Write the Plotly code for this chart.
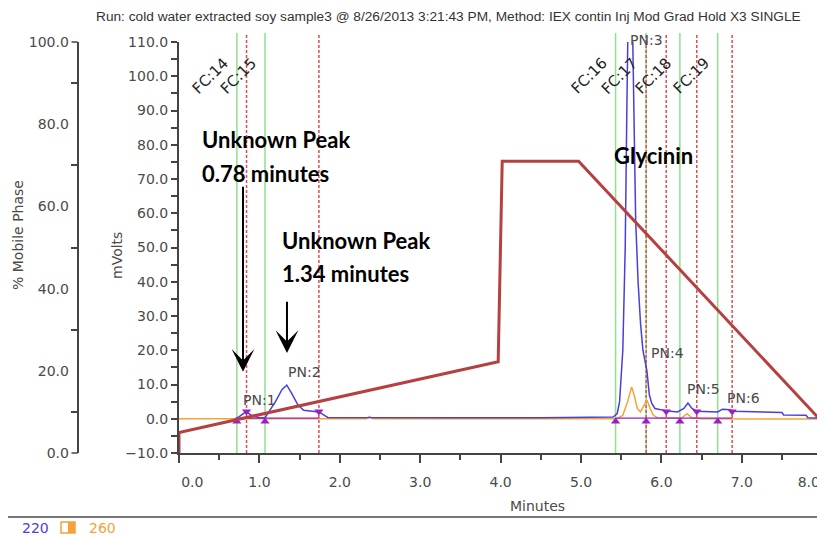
import plotly.graph_objects as go

# ---------------- data ----------------
title_text = "Run: cold water extracted soy sample3 @ 8/26/2013 3:21:43 PM, Method: IEX contin Inj Mod Grad Hold X3 SINGLE"

# 220 nm channel (mVolts)
t220 = [0.70, 0.75, 0.80, 0.84, 0.90, 1.00, 1.07, 1.12, 1.20, 1.28, 1.34, 1.40, 1.48, 1.55, 1.65, 1.74, 1.85,
        2.50, 3.50, 4.50, 5.35, 5.40, 5.45, 5.48, 5.52, 5.55, 5.57, 5.585, 5.64, 5.66, 5.68, 5.71, 5.74, 5.77,
        5.80, 5.82, 5.85, 5.88, 5.92, 6.00, 6.06, 6.20, 6.28, 6.33, 6.38, 6.44, 6.70, 6.76, 6.85, 6.90, 7.50,
        7.52, 7.80, 7.82, 8.06]
v220 = [0.0, 0.6, 1.5, 2.0, 1.0, 0.3, 0.3, 2.0, 5.0, 8.5, 9.8, 7.5, 4.0, 2.5, 2.2, 2.0, 0.4,
        0.3, 0.3, 0.3, 0.4, 0.5, 1.5, 5.0, 20.0, 50.0, 90.0, 116.0, 116.0, 85.0, 58.0, 40.0, 28.0, 20.0,
        16.0, 14.0, 7.0, 4.5, 3.0, 2.6, 2.3, 2.0, 3.0, 4.6, 3.0, 2.2, 2.0, 2.8, 2.6, 2.2, 1.8,
        1.1, 1.0, 0.3, 0.2]

# 260 nm channel (mVolts)
t260 = [0.00, 2.33, 2.37, 2.41, 5.45, 5.52, 5.58, 5.63, 5.66, 5.70, 5.74, 5.78, 5.82, 5.86, 5.90, 5.95,
        6.25, 6.32, 6.38, 6.50, 8.06]
v260 = [0.0, 0.0, 0.7, 0.0, 0.0, 1.0, 5.0, 9.3, 7.0, 3.0, 2.0, 4.0, 5.5, 3.0, 1.0, 0.3,
        0.2, 1.5, 0.3, 0.0, -0.1]

# gradient (% mobile phase)
t_grad = [0.00, 0.00, 3.97, 4.02, 4.97, 8.00, 8.06]
p_grad = [0.0, 5.0, 22.2, 71.0, 71.0, 7.5, 6.3]

# fraction collection windows
fc_names = ["FC:14", "FC:15", "FC:16", "FC:17", "FC:18", "FC:19"]
fc_start = [0.72, 1.07, 5.43, 5.81, 6.23, 6.70]
fc_end = [0.84, 1.74, 5.81, 6.06, 6.44, 6.88]

# peak detection markers
pk_start_t = [0.72, 1.07, 5.43, 5.81, 6.23, 6.70]
pk_start_v = [-0.8, -0.8, -0.8, -0.8, -0.8, -0.8]
pk_end_t = [0.84, 1.74, 6.06, 6.44, 6.88]
pk_end_v = [2.1, 2.1, 2.1, 2.1, 2.1]
base_t0 = [0.72, 5.43]
base_t1 = [1.74, 6.88]
base_v = 0.2

# peak labels
pn_names = ["PN:1", "PN:2", "PN:3", "PN:4", "PN:5", "PN:6"]
pn_t = [1.00, 1.56, 5.82, 6.07, 6.52, 7.02]
pn_v = [5.5, 13.7, 110.6, 19.2, 8.7, 6.1]

x_ticks = [0, 1, 2, 3, 4, 5, 6, 7, 8]
x_ticktext = ["\u00a0\u00a0\u00a0\u00a0\u00a0\u00a00.0", "1.0", "2.0", "3.0", "4.0", "5.0", "6.0", "7.0",
              "8.0\u00a0\u00a0\u00a0\u00a0\u00a0\u00a0"]

# ---------------- layout helpers ----------------
# the page body adds an 8px margin, so the figure is placed at (8, 8) on screen
OFF = 8
SW, SH = 825, 535
W, H = SW - OFF, SH - OFF
PL, PT, PB = 179, 42, 453          # plot area in screen pixels
PH = PB - PT
YMIN, YMAX = -10, 110


def fx(px):
    return (px - OFF) / W


def fy(py):
    return (PB - py) / PH


BLUE = "#4a3fd8"
ORANGE = "#f2a33a"
RED = "#b5403f"
GREEN = "#8fe08f"
RDASH = "#e5494d"
PURP = "#9a1fc4"
TXT = "#4a4a4a"
TICKFONT = dict(family="DejaVu Sans", size=14, color=TXT)

fig = go.Figure()

fig.add_trace(go.Scatter(x=t260, y=v260, mode="lines", line=dict(color=ORANGE, width=1.5),
                         xaxis="x", yaxis="y", hoverinfo="skip"))
fig.add_trace(go.Scatter(x=t220, y=v220, mode="lines", line=dict(color=BLUE, width=1.5),
                         xaxis="x", yaxis="y", hoverinfo="skip"))
for a, b in zip(base_t0, base_t1):
    fig.add_trace(go.Scatter(x=[a, b], y=[base_v, base_v], mode="lines",
                             line=dict(color=PURP, width=1.2), xaxis="x", yaxis="y", hoverinfo="skip"))
fig.add_trace(go.Scatter(x=pk_start_t, y=pk_start_v, mode="markers",
                         marker=dict(symbol="triangle-up", size=8, color=PURP), xaxis="x", yaxis="y"))
fig.add_trace(go.Scatter(x=pk_end_t, y=pk_end_v, mode="markers",
                         marker=dict(symbol="triangle-down", size=8, color=PURP), xaxis="x", yaxis="y"))
fig.add_trace(go.Scatter(x=t_grad, y=p_grad, mode="lines", line=dict(color=RED, width=3),
                         xaxis="x", yaxis="y2", hoverinfo="skip"))

shapes = []
for t in fc_start:
    shapes.append(dict(type="line", xref="x", yref="paper", x0=t, x1=t, y0=0, y1=fy(33),
                       line=dict(color=GREEN, width=1.5), layer="below"))
for t in fc_end:
    shapes.append(dict(type="line", xref="x", yref="paper", x0=t, x1=t, y0=0, y1=fy(33),
                       line=dict(color=RDASH, width=1.5, dash="3px,2px"), layer="below"))
# % axis end ticks
for py in (PT, PB):
    shapes.append(dict(type="line", xref="paper", yref="paper", x0=fx(71.5), x1=fx(77.7),
                       y0=fy(py), y1=fy(py), line=dict(color="#444", width=1.5)))
# bottom legend separator + swatches
shapes.append(dict(type="line", xref="paper", yref="paper", x0=fx(0), x1=fx(825), y0=fy(517), y1=fy(517),
                   line=dict(color="#777", width=2)))
shapes.append(dict(type="rect", xref="paper", yref="paper", x0=fx(61), x1=fx(75), y0=fy(533), y1=fy(522),
                   line=dict(color=ORANGE, width=1.5), fillcolor="rgba(0,0,0,0)"))
shapes.append(dict(type="rect", xref="paper", yref="paper", x0=fx(68), x1=fx(75), y0=fy(533), y1=fy(522),
                   line=dict(color=ORANGE, width=0), fillcolor=ORANGE))

ann = []
ann.append(dict(text=title_text, xref="paper", yref="paper", x=fx(448), y=fy(17), showarrow=False,
                font=dict(family="Liberation Sans", size=13.7, color="#333"),
                xanchor="center", yanchor="middle"))
ann.append(dict(text="% Mobile Phase", xref="paper", yref="paper", x=fx(18), y=fy(235), showarrow=False,
                textangle=-90, xanchor="center", yanchor="middle",
                font=dict(family="DejaVu Sans", size=14, color=TXT)))
ann.append(dict(text="mVolts", xref="paper", yref="paper", x=fx(117), y=fy(256), showarrow=False,
                textangle=-90, xanchor="center", yanchor="middle",
                font=dict(family="DejaVu Sans", size=14, color=TXT)))
ann.append(dict(text="Minutes", xref="paper", yref="paper", x=fx(537), y=fy(506), showarrow=False,
                xanchor="center", yanchor="middle",
                font=dict(family="DejaVu Sans", size=14, color=TXT)))
ann.append(dict(text="220", xref="paper", yref="paper", x=fx(20), y=fy(528), showarrow=False,
                xanchor="left", yanchor="middle", font=dict(family="DejaVu Sans", size=14, color=BLUE)))
ann.append(dict(text="260", xref="paper", yref="paper", x=fx(87), y=fy(528), showarrow=False,
                xanchor="left", yanchor="middle", font=dict(family="DejaVu Sans", size=14, color=ORANGE)))

for name, t in zip(fc_names, fc_start):
    ann.append(dict(text=name, x=t - 0.33, y=100, xref="x", yref="y", showarrow=False, textangle=-45,
                    xanchor="center", yanchor="middle",
                    font=dict(family="DejaVu Sans", size=15, color="#222")))
for name, t, v in zip(pn_names, pn_t, pn_v):
    ann.append(dict(text=name, x=t, y=(v - YMIN) / (YMAX - YMIN), xref="x", yref="paper", showarrow=False,
                    xanchor="center", yanchor="middle",
                    font=dict(family="DejaVu Sans", size=14, color=TXT)))

BOLD = dict(family="Lato", size=22, color="black")
ann.append(dict(text="<b>Unknown Peak</b>", x=0.26, y=81.4, xref="x", yref="y", showarrow=False,
                xanchor="left", font=BOLD))
ann.append(dict(text="<b>0.78 minutes</b>", x=0.26, y=71.7, xref="x", yref="y", showarrow=False,
                xanchor="left", font=BOLD))
ann.append(dict(text="<b>Unknown Peak</b>", x=1.256, y=51.9, xref="x", yref="y", showarrow=False,
                xanchor="left", font=BOLD))
ann.append(dict(text="<b>1.34 minutes</b>", x=1.256, y=42.5, xref="x", yref="y", showarrow=False,
                xanchor="left", font=BOLD))
ann.append(dict(text="<b>Glycinin</b>", x=5.385, y=77, xref="x", yref="y", showarrow=False,
                xanchor="left", font=BOLD))
# arrows
ann.append(dict(text="", x=0.796, y=13.7, ax=0.796, ay=68.2, xref="x", yref="y", axref="x", ayref="y",
                showarrow=True, arrowhead=3, arrowsize=1.9, arrowwidth=2, arrowcolor="black"))
ann.append(dict(text="", x=1.343, y=19.2, ax=1.343, ay=34.6, xref="x", yref="y", axref="x", ayref="y",
                showarrow=True, arrowhead=3, arrowsize=1.9, arrowwidth=2, arrowcolor="black"))

fig.update_layout(
    width=W, height=H,
    margin=dict(l=0, r=0, t=PT - OFF, b=SH - PB, autoexpand=False),
    paper_bgcolor="white", plot_bgcolor="white",
    showlegend=False,
    shapes=shapes, annotations=ann,
    xaxis=dict(domain=[fx(PL), 1], range=[0, (SW - PL) / 80.4], tickvals=x_ticks, ticktext=x_ticktext,
               ticks="outside", ticklen=8, tickwidth=1.5, tickcolor="#444", ticklabelstandoff=7,
               ticklabeloverflow="allow",
               minor=dict(dtick=0.5, tick0=0, ticks="outside", ticklen=5, tickwidth=1.5, tickcolor="#444"),
               showline=True, linecolor="#444", linewidth=2, showgrid=False, zeroline=False,
               tickfont=TICKFONT, anchor="y", automargin=False),
    yaxis=dict(range=[YMIN, YMAX], dtick=10, tick0=0, tickformat=".1f",
               ticks="outside", ticklen=6, tickwidth=1.5, tickcolor="#444",
               minor=dict(dtick=5, tick0=0, ticks="outside", ticklen=6, tickwidth=1.5, tickcolor="#444"),
               showline=True, linecolor="#444", linewidth=2, showgrid=False, zeroline=False,
               tickfont=TICKFONT, anchor="x", automargin=False),
    yaxis2=dict(range=[0, 100], dtick=20, tick0=0, tickformat=".1f", overlaying="y",
                anchor="free", position=fx(77.7), side="left", ticks="", ticklabelstandoff=5,
                minor=dict(dtick=10, tick0=0, ticks="outside", ticklen=6, tickwidth=1.5, tickcolor="#444"),
                showline=True, linecolor="#444", linewidth=2, showgrid=False, zeroline=False,
                tickfont=TICKFONT, automargin=False),
)

fig.write_html("out.html")
